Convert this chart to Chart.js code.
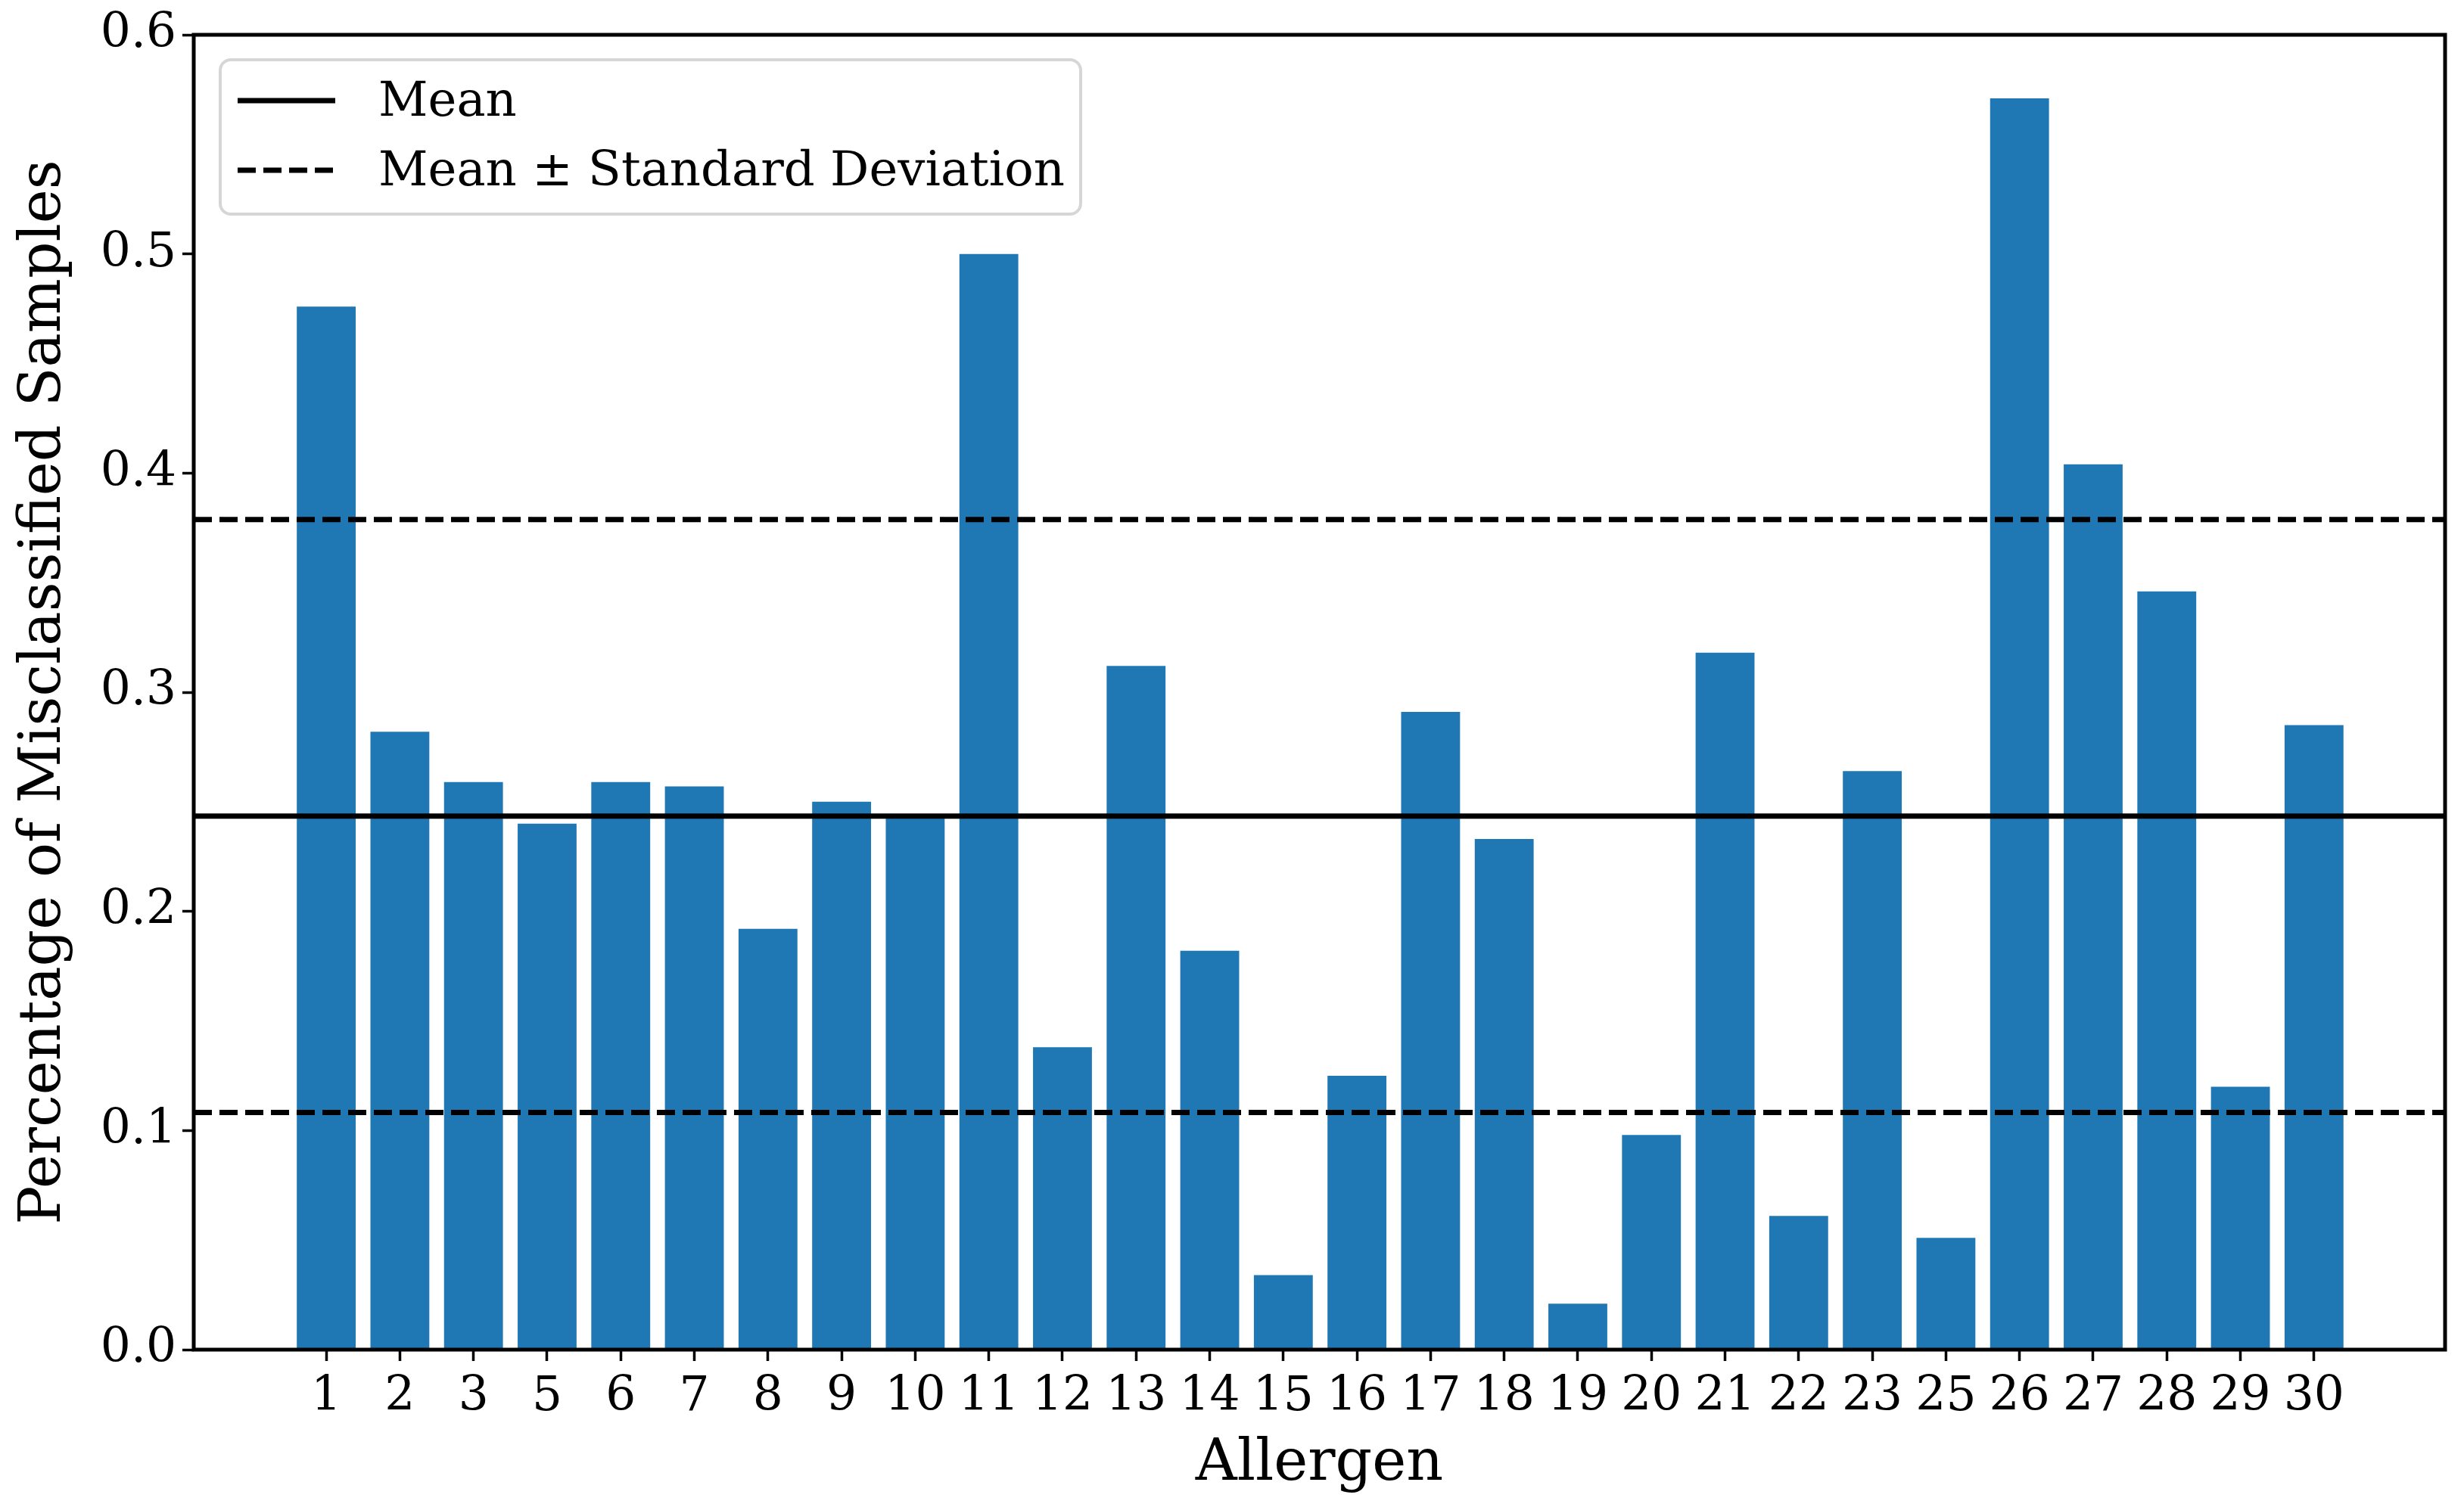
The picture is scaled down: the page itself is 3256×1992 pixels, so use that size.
<!DOCTYPE html>
<html>
<head>
<meta charset="utf-8">
<script src="https://cdn.jsdelivr.net/npm/chart.js@4.4.0/dist/chart.umd.min.js"></script>
<style>
html, body { margin: 0; padding: 0; background: #fff; }
#wrap { width: 3256px; height: 1992px; }
</style>
</head>
<body>
<div id="wrap"><canvas id="AllergenChart"></canvas></div>
<script>
const allergenLabels = ['1', '2', '3', '5', '6', '7', '8', '9', '10', '11', '12', '13', '14', '15',
    '16', '17', '18', '19', '20', '21', '22', '23', '25', '26', '27', '28', '29', '30'];
const misclassified = [0.476, 0.282, 0.259, 0.240, 0.259, 0.257, 0.192, 0.250, 0.243, 0.500,
    0.138, 0.312, 0.182, 0.034, 0.125, 0.291, 0.233, 0.021, 0.098, 0.318,
    0.061, 0.264, 0.051, 0.571, 0.404, 0.346, 0.120, 0.285];
const meanValue = 0.2435;
const stdValue = 0.1353;
const yTicks = [0.0, 0.1, 0.2, 0.3, 0.4, 0.5, 0.6];
const xLimits = [-1.8, 28.78];

const serif = "'DejaVu Serif', serif";
Chart.defaults.font.family = serif;
Chart.defaults.color = "#000";

// box round the plot area, drawn over the bars like matplotlib spines
const framePlugin = {
    id: "frame",
    afterDatasetsDraw(chart) {
        const { ctx, chartArea } = chart;
        ctx.save();
        ctx.strokeStyle = "#000";
        ctx.lineWidth = 5;
        ctx.strokeRect(chartArea.left, chartArea.top, chartArea.right - chartArea.left, chartArea.bottom - chartArea.top);
        ctx.restore();
    }
};

// legend in the upper left corner with a rounded grey frame
const legendPlugin = {
    id: "boxLegend",
    afterDraw(chart) {
        const { ctx } = chart;
        const entries = chart.data.datasets.filter(ds => ds.inLegend);
        const x0 = 291, y0 = 79, w = 1137, h = 204, r = 14;
        ctx.save();
        ctx.beginPath();
        ctx.roundRect(x0, y0, w, h, r);
        ctx.fillStyle = "rgba(255,255,255,0.8)";
        ctx.fill();
        ctx.strokeStyle = "rgba(204,204,204,0.8)";
        ctx.lineWidth = 4;
        ctx.stroke();
        ctx.font = "64px " + serif;
        ctx.textBaseline = "middle";
        ctx.fillStyle = "#000";
        entries.forEach((ds, i) => {
            const y = 133 + i * 92;
            ctx.beginPath();
            ctx.setLineDash(ds.borderDash || []);
            ctx.strokeStyle = ds.borderColor;
            ctx.lineWidth = ds.borderWidth;
            ctx.moveTo(314, y);
            ctx.lineTo(443, y);
            ctx.stroke();
            ctx.setLineDash([]);
            ctx.fillText(ds.label, 500, y + 3);
        });
        ctx.restore();
    }
};

function hLine(value) {
    return [{ x: xLimits[0], y: value }, { x: xLimits[1], y: value }];
}

new Chart(document.getElementById("AllergenChart"), {
    type: "bar",
    data: {
        datasets: [{
            type: "line",
            label: "Mean",
            inLegend: true,
            data: hLine(meanValue),
            borderColor: "#000",
            borderWidth: 7,
            pointRadius: 0,
            order: 1
        }, {
            type: "line",
            label: "Mean ± Standard Deviation",
            inLegend: true,
            data: hLine(meanValue + stdValue),
            borderColor: "#000",
            borderWidth: 7,
            borderDash: [24, 10],
            pointRadius: 0,
            order: 1
        }, {
            type: "line",
            label: "Mean - Standard Deviation",
            data: hLine(meanValue - stdValue),
            borderColor: "#000",
            borderWidth: 7,
            borderDash: [24, 10],
            pointRadius: 0,
            order: 1
        }, {
            type: "bar",
            label: "Misclassified",
            data: misclassified.map((v, i) => ({ x: i, y: v })),
            backgroundColor: "#1f77b4",
            borderWidth: 0,
            barPercentage: 0.8,
            categoryPercentage: 1.0,
            order: 2
        }]
    },
    options: {
        responsive: true,
        maintainAspectRatio: false,
        animation: false,
        layout: { padding: { left: 0, top: 46, right: 25, bottom: 0 } },
        plugins: {
            legend: { display: false },
            tooltip: { enabled: false }
        },
        scales: {
            x: {
                type: "linear",
                min: xLimits[0],
                max: xLimits[1],
                offset: false,
                afterFit: s => { s.height = 208; },
                afterBuildTicks: s => { s.ticks = allergenLabels.map((_, i) => ({ value: i })); },
                border: { display: false },
                grid: {
                    offset: false,
                    drawOnChartArea: false,
                    drawTicks: true,
                    tickLength: 15,
                    tickWidth: 3.5,
                    tickColor: "#000"
                },
                ticks: {
                    autoSkip: false,
                    maxRotation: 0,
                    minRotation: 0,
                    padding: 11,
                    font: { size: 63 },
                    callback: v => allergenLabels[v]
                },
                title: {
                    display: true,
                    text: "Allergen",
                    font: { size: 76, lineHeight: 1.2 },
                    padding: { top: 0, bottom: 10 }
                }
            },
            y: {
                min: 0,
                max: 0.6,
                afterFit: s => { s.width = 256; },
                afterBuildTicks: s => { s.ticks = yTicks.map(v => ({ value: v })); },
                border: { display: false },
                grid: {
                    drawOnChartArea: false,
                    drawTicks: true,
                    tickLength: 15,
                    tickWidth: 3.5,
                    tickColor: "#000"
                },
                ticks: {
                    padding: 8,
                    font: { size: 63 },
                    callback: v => v.toFixed(1)
                },
                title: {
                    display: true,
                    text: "Percentage of Misclassified Samples",
                    font: { size: 76, lineHeight: 1.2 },
                    padding: { top: 14, bottom: 0 }
                }
            }
        }
    },
    plugins: [framePlugin, legendPlugin]
});
</script>
</body>
</html>
